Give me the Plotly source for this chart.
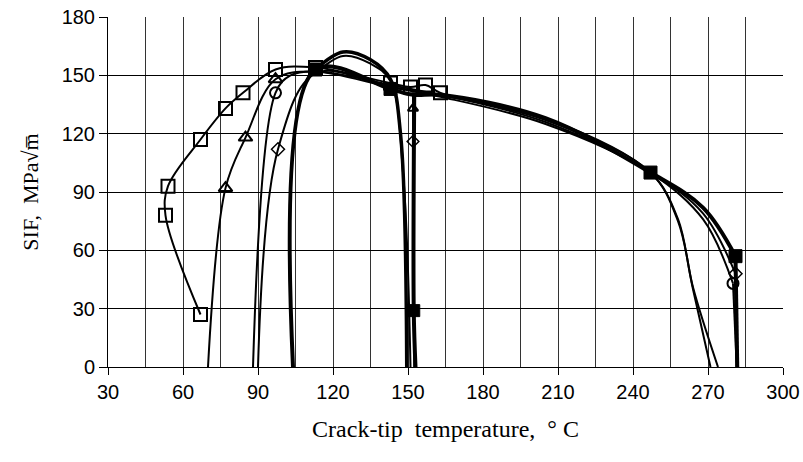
import plotly.graph_objects as go

# ---- data ----
# open squares series
sq_T = [274, 264, 258, 247, 205, 163, 157, 151, 143, 113, 97, 84, 77, 67, 54, 53, 67]
sq_K = [0, 41, 76, 100, 128, 141, 145, 144, 146, 154, 153, 141, 133, 117, 93, 78, 27]
sq_mT = [163, 157, 151, 143, 113, 97, 84, 77, 67, 54, 53, 67]
sq_mK = [141, 145, 144, 146, 154, 153, 141, 133, 117, 93, 78, 27]

# triangles series
tr_T = [271, 264, 258, 247, 205, 163, 143, 113, 97, 85, 77, 70]
tr_K = [0, 40, 75, 100, 127, 140, 145, 152, 148, 118, 92, 0]
tr_mT = [97, 85, 77]
tr_mK = [148, 118, 92]

# circles series
ci_T = [281.5, 280, 268, 247, 205, 163, 143, 113, 103, 97, 88]
ci_K = [0, 43, 76, 100, 125, 139, 144, 152, 150, 141, 0]
ci_mT = [97, 280]
ci_mK = [141, 43]

# diamonds series
di_T = [281.5, 281, 268, 247, 205, 163, 143, 113, 98, 90]
di_K = [0, 48, 79, 100, 126, 140, 144, 151, 112, 0]
di_mT = [98, 281]
di_mK = [112, 48]

# filled squares series
fs_T = [281.7, 281, 268, 247, 205, 163, 152, 143, 113, 104]
fs_K = [0, 57, 82, 100, 128, 140, 140, 143, 153, 0]
fs_mT = [281, 247, 143, 113]
fs_mK = [57, 100, 143, 153]

# re-warming arcs
a1_T = [113, 124, 135, 143, 147, 149.5]
a1_K = [153, 162, 158, 148, 120, 0]
a2_T = [113, 124, 135, 143, 148, 151]
a2_K = [151, 160, 156, 147, 100, 0]

# drops at ~152 C
d1_T = [152, 152, 152, 152.5]
d1_K = [141, 133, 116, 0]
d1_mT = [152, 152]
d1_mK = [133, 116]
d2_T = [152.5, 152.3, 153]
d2_K = [141, 29, 0]
d2_mT = [152.3]
d2_mK = [29]

x_ticks = [30, 60, 90, 120, 150, 180, 210, 240, 270, 300]
y_ticks = [0, 30, 60, 90, 120, 150, 180]

fig = go.Figure()

def line(x, y, w, shape="spline"):
    ln = dict(color="black", width=w, shape=shape)
    if shape == "spline":
        ln["smoothing"] = 1.0
    fig.add_trace(go.Scatter(x=x, y=y, mode="lines", line=ln,
                             hoverinfo="skip", showlegend=False))

def marks(x, y, sym, size, lw=2):
    fig.add_trace(go.Scatter(x=x, y=y, mode="markers",
                             marker=dict(symbol=sym, size=size, color="black",
                                         line=dict(color="black", width=lw)),
                             hoverinfo="skip", showlegend=False))

line(sq_T, sq_K, 2)
line(tr_T, tr_K, 2)
# series whose first step is a vertical jump at ~281 C: straight jump, then smooth curve
line(ci_T[:2], ci_K[:2], 2, "linear")
line(ci_T[1:], ci_K[1:], 2)
line(di_T[:2], di_K[:2], 2, "linear")
line(di_T[1:], di_K[1:], 2)
line(fs_T[:2], fs_K[:2], 4, "linear")
line(fs_T[1:], fs_K[1:], 4)
line(a1_T, a1_K, 3.5)
line(a2_T, a2_K, 2)
line(d1_T, d1_K, 2)
line(d2_T, d2_K, 4)

marks(sq_mT, sq_mK, "square-open", 13, 2)
marks(tr_mT, tr_mK, "triangle-up-open", 12, 2)
marks(ci_mT, ci_mK, "circle-open", 11, 2)
marks(di_mT, di_mK, "diamond-open", 10, 1.5)
marks(fs_mT, fs_mK, "square", 13, 1)
marks(d1_mT[:1], d1_mK[:1], "triangle-up-open", 9, 2)
marks(d1_mT[1:], d1_mK[1:], "diamond-open", 9, 1.5)
marks(d2_mT, d2_mK, "square", 12, 1)

grid_col = "#333333"
fig.update_layout(
    width=803, height=462,
    margin=dict(l=108, r=20, t=17, b=95),
    paper_bgcolor="white", plot_bgcolor="white",
    font=dict(family="Liberation Sans, Arial", size=20, color="black"),
    xaxis=dict(range=[30, 300], tickvals=x_ticks, ticktext=[str(v) for v in x_ticks],
               ticks="outside", ticklen=7, tickcolor="black", tickwidth=1,
               showline=True, linecolor="black", linewidth=1, automargin=False,
               showgrid=True, gridcolor=grid_col, gridwidth=1,
               minor=dict(dtick=15, tick0=30, showgrid=True, gridcolor=grid_col, gridwidth=1, ticks=""),
               zeroline=False,
               title=dict(text="Crack-tip  temperature,  \u00b0 C",
                          font=dict(family="Liberation Serif, Times New Roman", size=24, color="black"),
                          standoff=18)),
    yaxis=dict(range=[0, 180], tickvals=y_ticks, ticktext=[str(v) for v in y_ticks],
               ticks="outside", ticklen=8, tickcolor="black", tickwidth=1,
               showline=True, linecolor="black", linewidth=1, automargin=False,
               showgrid=True, gridcolor="black", gridwidth=1, zeroline=False,
               title=dict(text="SIF,  MPa\u221am\u0305",
                          font=dict(family="Liberation Serif, Times New Roman", size=22, color="black"),
                          standoff=16)),
)

fig.write_html("out.html")
